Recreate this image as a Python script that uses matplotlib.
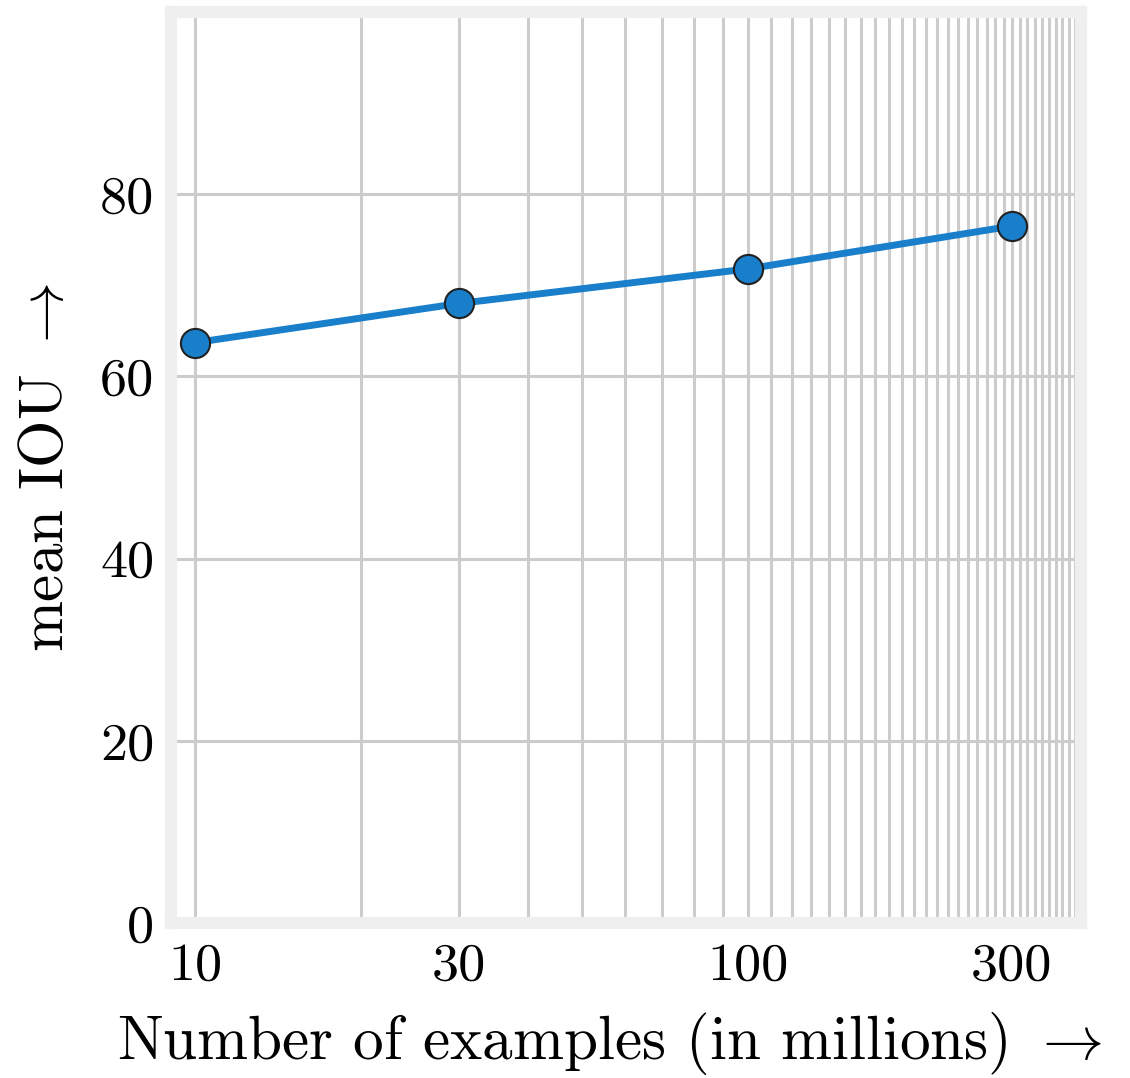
import matplotlib
matplotlib.use("Agg")
import matplotlib.pyplot as plt
from matplotlib.ticker import FixedLocator, NullFormatter

# data
examples_millions = [10, 30, 100, 300]
mean_iou = [63.7, 68.0, 71.8, 76.5]
xtick_values = [10, 30, 100, 300]
xtick_labels = ["10", "30", "100", "300"]
ytick_values = [0, 20, 40, 60, 80]
xgrid_values = list(range(10, 400, 10))

plt.rcParams['font.family'] = ['cmr10', 'DejaVu Serif']
plt.rcParams['mathtext.fontset'] = 'cm'
plt.rcParams['axes.unicode_minus'] = False

fig = plt.figure(figsize=(11.3, 10.78), dpi=100)
ax = fig.add_axes([0.1513, 0.1438, 0.9566 - 0.1513, 0.9889 - 0.1438])

ax.set_xscale('log')
ax.set_xlim(9.05, 400)
ax.set_ylim(0, 100)

ax.plot(examples_millions, mean_iou, color='#1a7fca', lw=5, marker='o',
        markersize=21, markerfacecolor='#1a7fca', markeredgecolor='#222222',
        markeredgewidth=1.5, zorder=3, clip_on=False)

ax.xaxis.set_major_locator(FixedLocator(xtick_values))
ax.set_xticklabels(xtick_labels)
ax.xaxis.set_minor_locator(FixedLocator([v for v in xgrid_values if v not in xtick_values]))
ax.xaxis.set_minor_formatter(NullFormatter())
ax.set_yticks(ytick_values)
ax.set_yticklabels([str(v) for v in ytick_values])

ax.grid(True, which='both', axis='x', color='#cccccc', lw=2.2)
ax.grid(True, which='major', axis='y', color='#cccccc', lw=2.2)
ax.set_axisbelow(True)

for s in ax.spines.values():
    s.set_color('#efefef')
    s.set_linewidth(8.8)
    s.set_zorder(2.5)

ax.tick_params(which='both', length=0)
ax.tick_params(axis='x', pad=14, labelsize=39)
ax.tick_params(axis='y', pad=12, labelsize=39)

ax.set_xlabel(r'Number of examples (in millions) $\rightarrow$', fontsize=44, labelpad=15)
ax.xaxis.label.set_x(0.482)
ax.set_ylabel(r'mean IOU $\rightarrow$', fontsize=44, labelpad=18)

fig.savefig('out.png', dpi=100)
